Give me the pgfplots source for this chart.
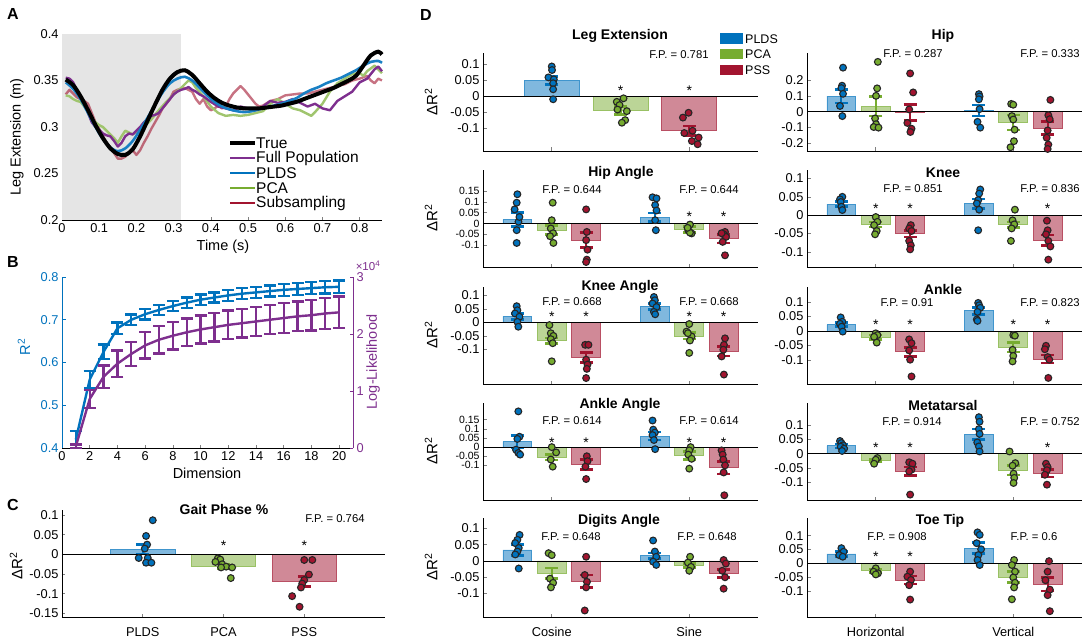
\documentclass[border=0pt]{standalone}
\usepackage{pgfplots}
\pgfplotsset{compat=1.18}
\usepackage{fontspec}
\setmainfont{Liberation Sans}
\definecolor{cB}{RGB}{0,114,189}
\definecolor{cG}{RGB}{119,172,48}
\definecolor{cR}{RGB}{162,20,47}
\definecolor{cP}{RGB}{126,47,142}
\definecolor{edge}{RGB}{38,38,38}
\newcommand{\tk}{\fontsize{12.8}{13}\selectfont}
\newcommand{\tks}{\fontsize{10.5}{10.5}\selectfont}
\newcommand{\ttl}{\fontsize{14}{14}\selectfont\bfseries}
\newcommand{\fp}{\fontsize{11.3}{12}\selectfont}
\newcommand{\lab}{\fontsize{14.5}{15}\selectfont}
\pgfplotsset{
  base/.style={scale only axis, axis x line*=bottom, axis y line*=left,
    tick align=inside, major tick length=3.5pt, tick style={line width=0.6pt},
    axis line style={line width=0.7pt}, ticklabel style={font=\tk}, clip=false},
  dax/.style={base, width=275pt, xmin=0.5, xmax=2.5, xtick={1,2}, xticklabels={}},
  yt5/.style={ytick={-0.1,-0.05,0,0.05,0.1}, yticklabels={-0.1,-0.05,0,0.05,0.1}},
  yt6/.style={ytick={-0.1,-0.05,0,0.05,0.1,0.15}, yticklabels={-0.1,-0.05,0,0.05,0.1,0.15},
    yticklabel style={font=\tks, inner ysep=0pt}},
  barc/.style 2 args={ybar, bar width=#2, bar shift=0pt, fill=#1!50, draw=#1!75, line width=0.8pt,
    error bars/y dir=both, error bars/y explicit,
    error bars/error bar style={#1, line width=2.2pt},
    error bars/error mark options={#1, rotate=90, line width=2.6pt, mark size=6.5pt}},
  dots/.style={only marks, mark=*, mark size=3.4pt, mark options={fill=#1, draw=edge, line width=1.1pt}},
}
\tikzset{star/.style={font=\fontsize{14}{14}\selectfont, inner sep=0pt, yshift=-3pt},
  zl/.style={black, line width=0.8pt}}
\begin{document}
\begin{tikzpicture}
\useasboundingbox (0,0) rectangle (1084pt,641pt);

% ---------- A ----------
\begin{axis}[base, at={(62pt,421pt)}, anchor=south west, width=320pt, height=186pt,
  xmin=0, xmax=0.86, ymin=0.2, ymax=0.4,
  xtick={0,0.1,0.2,0.3,0.4,0.5,0.6,0.7,0.8}, xticklabels={0,0.1,0.2,0.3,0.4,0.5,0.6,0.7,0.8},
  ytick={0.2,0.25,0.3,0.35,0.4}, yticklabels={0.2,0.25,0.3,0.35,0.4}]
\fill[black!10] (axis cs:0,0.2) rectangle (axis cs:0.32,0.4);
\addplot[cR, draw opacity=0.6, line width=2.4pt, line join=round] coordinates {
(0.01,0.335)(0.02,0.340)(0.03,0.336)(0.04,0.332)(0.05,0.330)(0.06,0.328)(0.07,0.325)(0.08,0.315)
(0.09,0.305)(0.10,0.298)(0.11,0.290)(0.12,0.283)(0.13,0.278)(0.14,0.272)(0.15,0.266)(0.16,0.266)
(0.17,0.268)(0.18,0.272)(0.19,0.275)(0.20,0.270)(0.21,0.275)(0.22,0.283)(0.23,0.290)(0.24,0.298)
(0.25,0.305)(0.26,0.312)(0.27,0.320)(0.28,0.325)(0.29,0.330)(0.30,0.338)(0.31,0.340)(0.32,0.341)
(0.33,0.342)(0.34,0.340)(0.35,0.338)(0.36,0.330)(0.37,0.325)(0.38,0.330)(0.39,0.322)(0.40,0.318)
(0.41,0.320)(0.42,0.323)(0.43,0.320)(0.44,0.322)(0.45,0.330)(0.46,0.336)(0.47,0.340)(0.48,0.344)
(0.49,0.340)(0.50,0.335)(0.51,0.330)(0.52,0.325)(0.53,0.322)(0.54,0.323)(0.56,0.328)(0.58,0.330)
(0.60,0.334)(0.62,0.335)(0.64,0.336)(0.66,0.336)(0.68,0.338)(0.70,0.340)(0.72,0.342)(0.74,0.344)
(0.76,0.346)(0.78,0.350)(0.80,0.352)(0.82,0.355)(0.83,0.350)(0.84,0.347)(0.85,0.352)(0.86,0.350)};
\addplot[cG!70, line width=2.4pt, line join=round] coordinates {
(0.01,0.334)(0.02,0.333)(0.03,0.330)(0.04,0.328)(0.05,0.327)(0.06,0.322)(0.07,0.316)(0.08,0.310)
(0.09,0.305)(0.10,0.302)(0.11,0.300)(0.12,0.296)(0.13,0.292)(0.14,0.288)(0.15,0.283)(0.16,0.290)
(0.17,0.296)(0.18,0.294)(0.19,0.292)(0.20,0.295)(0.21,0.298)(0.22,0.300)(0.24,0.308)(0.26,0.318)
(0.28,0.327)(0.30,0.335)(0.32,0.342)(0.34,0.350)(0.35,0.348)(0.36,0.342)(0.38,0.333)(0.40,0.322)
(0.42,0.315)(0.44,0.312)(0.46,0.313)(0.48,0.312)(0.50,0.313)(0.52,0.315)(0.54,0.317)(0.56,0.325)
(0.58,0.330)(0.60,0.325)(0.62,0.320)(0.64,0.318)(0.66,0.314)(0.67,0.312)(0.68,0.316)(0.70,0.325)
(0.72,0.338)(0.74,0.347)(0.76,0.352)(0.78,0.357)(0.80,0.358)(0.81,0.355)(0.82,0.360)(0.84,0.366)
(0.86,0.358)};
\addplot[cP, line width=2.4pt, line join=round] coordinates {
(0.01,0.353)(0.02,0.352)(0.03,0.348)(0.04,0.340)(0.05,0.333)(0.06,0.325)(0.07,0.315)(0.08,0.305)
(0.09,0.300)(0.10,0.297)(0.11,0.293)(0.12,0.291)(0.13,0.290)(0.14,0.285)(0.15,0.279)(0.16,0.283)
(0.17,0.290)(0.18,0.293)(0.19,0.292)(0.20,0.296)(0.21,0.300)(0.22,0.305)(0.23,0.308)(0.24,0.312)
(0.25,0.313)(0.26,0.315)(0.27,0.320)(0.28,0.325)(0.29,0.330)(0.30,0.335)(0.31,0.338)(0.32,0.340)
(0.33,0.341)(0.34,0.343)(0.35,0.340)(0.36,0.338)(0.37,0.335)(0.38,0.333)(0.39,0.330)(0.40,0.327)
(0.42,0.322)(0.44,0.320)(0.46,0.318)(0.48,0.322)(0.50,0.320)(0.52,0.318)(0.54,0.322)(0.56,0.328)
(0.58,0.326)(0.60,0.327)(0.62,0.330)(0.64,0.326)(0.66,0.322)(0.68,0.325)(0.70,0.320)(0.72,0.318)
(0.74,0.328)(0.76,0.333)(0.78,0.338)(0.80,0.348)(0.82,0.352)(0.84,0.362)(0.85,0.365)(0.86,0.360)};
\addplot[cB!90, line width=2.6pt, smooth] coordinates {
(0.01,0.348)(0.03,0.341)(0.05,0.330)(0.07,0.315)(0.09,0.300)(0.11,0.287)(0.13,0.278)(0.15,0.274)
(0.17,0.277)(0.19,0.285)(0.21,0.297)(0.23,0.310)(0.25,0.324)(0.27,0.337)(0.29,0.347)(0.31,0.352)
(0.33,0.354)(0.35,0.350)(0.37,0.342)(0.39,0.334)(0.41,0.327)(0.43,0.322)(0.45,0.319)(0.47,0.317)
(0.49,0.316)(0.51,0.317)(0.53,0.319)(0.55,0.321)(0.57,0.323)(0.59,0.325)(0.61,0.328)(0.63,0.331)
(0.65,0.336)(0.67,0.340)(0.69,0.343)(0.71,0.347)(0.73,0.350)(0.75,0.353)(0.77,0.357)(0.79,0.361)
(0.81,0.366)(0.83,0.370)(0.85,0.371)(0.86,0.369)};
\addplot[black, line width=4pt, smooth] coordinates {
(0.01,0.351)(0.03,0.345)(0.05,0.333)(0.07,0.318)(0.09,0.302)(0.11,0.288)(0.13,0.277)(0.15,0.271)
(0.17,0.270)(0.19,0.276)(0.21,0.290)(0.23,0.307)(0.25,0.324)(0.27,0.340)(0.29,0.352)(0.31,0.359)
(0.33,0.361)(0.35,0.356)(0.37,0.347)(0.39,0.338)(0.41,0.331)(0.43,0.326)(0.45,0.323)(0.47,0.321)
(0.49,0.320)(0.51,0.320)(0.53,0.320)(0.55,0.321)(0.57,0.322)(0.59,0.323)(0.61,0.325)(0.63,0.327)
(0.65,0.330)(0.67,0.333)(0.69,0.336)(0.71,0.339)(0.73,0.342)(0.75,0.346)(0.77,0.350)(0.79,0.355)
(0.81,0.366)(0.83,0.377)(0.85,0.381)(0.86,0.378)};
\end{axis}
% legend A
\draw[black, line width=4pt] (230pt,498pt) -- (255pt,498pt);
\draw[cP, line width=2.4pt] (230pt,483pt) -- (255pt,483pt);
\draw[cB, line width=2.4pt] (230pt,468pt) -- (255pt,468pt);
\draw[cG, line width=2.4pt] (230pt,453pt) -- (255pt,453pt);
\draw[cR, line width=2.4pt] (230pt,438pt) -- (255pt,438pt);
\begin{scope}[every node/.style={anchor=west, inner sep=0pt, font=\fontsize{15.5}{15}\selectfont}]
\node at (256pt,498pt) {True};
\node at (256pt,483pt) {Full Population};
\node at (256pt,468pt) {PLDS};
\node at (256pt,453pt) {PCA};
\node at (256pt,438pt) {Subsampling};
\end{scope}
\node[rotate=90, font=\lab] at (17pt,504pt) {Leg Extension (m)};
\node[font=\lab] at (223pt,394pt) {Time (s)};

% ---------- B ----------
\begin{axis}[base, at={(62pt,193pt)}, anchor=south west, width=291pt, height=171pt,
  xmin=0, xmax=21, ymin=0.4, ymax=0.8,
  xtick={0,2,4,6,8,10,12,14,16,18,20}, xticklabels={0,2,4,6,8,10,12,14,16,18,20},
  ytick={0.4,0.5,0.6,0.7,0.8}, yticklabels={0.4,0.5,0.6,0.7,0.8},
  y axis line style={cB}, ytick style={cB}, yticklabel style={cB}]
\addplot[cB, line width=2.4pt, error bars/y dir=both, error bars/y explicit,
  error bars/error bar style={line width=2.2pt}, error bars/error mark options={rotate=90, line width=2.4pt, mark size=6pt}]
coordinates {(1,0.42)+-(0,0.02) (2,0.56)+-(0,0.02) (3,0.625)+-(0,0.017) (4,0.68)+-(0,0.014)
(5,0.70)+-(0,0.012) (6,0.713)+-(0,0.012) (7,0.723)+-(0,0.012) (8,0.732)+-(0,0.012)
(9,0.740)+-(0,0.012) (10,0.747)+-(0,0.012) (11,0.752)+-(0,0.012) (12,0.757)+-(0,0.013)
(13,0.761)+-(0,0.013) (14,0.764)+-(0,0.013) (15,0.767)+-(0,0.013) (16,0.770)+-(0,0.014)
(17,0.772)+-(0,0.014) (18,0.774)+-(0,0.014) (19,0.776)+-(0,0.015) (20,0.777)+-(0,0.015)};
\end{axis}
\begin{axis}[scale only axis, at={(62pt,193pt)}, anchor=south west, width=291pt, height=171pt,
  xmin=0, xmax=21, ymin=0, ymax=3, axis x line=none, axis y line*=right, clip=false,
  tick align=inside, major tick length=3.5pt, tick style={line width=0.6pt, cP},
  axis line style={line width=0.7pt}, y axis line style={cP},
  ytick={0,1,2,3}, yticklabels={0,1,2,3}, yticklabel style={font=\tk, cP}]
\addplot[cP, line width=2.4pt, error bars/y dir=both, error bars/y explicit,
  error bars/error bar style={line width=2.2pt}, error bars/error mark options={rotate=90, line width=2.4pt, mark size=6pt}]
coordinates {(1,0.03)+-(0,0.03) (2,0.86)+-(0,0.16) (3,1.25)+-(0,0.2) (4,1.48)+-(0,0.23)
(5,1.65)+-(0,0.21) (6,1.80)+-(0,0.23) (7,1.90)+-(0,0.24) (8,1.97)+-(0,0.24)
(9,2.03)+-(0,0.24) (10,2.08)+-(0,0.245) (11,2.12)+-(0,0.25) (12,2.16)+-(0,0.25)
(13,2.19)+-(0,0.25) (14,2.22)+-(0,0.255) (15,2.25)+-(0,0.255) (16,2.28)+-(0,0.26)
(17,2.31)+-(0,0.26) (18,2.33)+-(0,0.27) (19,2.36)+-(0,0.27) (20,2.38)+-(0,0.275)};
\end{axis}
\node[cB, rotate=90, font=\lab] at (24pt,294pt) {R\textsuperscript{2}};
\node[cP, rotate=90, font=\lab] at (373pt,279pt) {Log-Likelihood};
\node[cP, font=\fontsize{11.5}{12}\selectfont] at (368pt,375pt) {×10\textsuperscript{4}};
\node[font=\lab] at (207pt,168pt) {Dimension};

% ---------- C ----------
\begin{axis}[base, at={(62pt,24pt)}, anchor=south west, width=323pt, height=107pt,
  xmin=0, xmax=4, ymin=-0.159, ymax=0.113, xtick={1,2,3}, xticklabels={PLDS,PCA,PSS},
  xticklabel style={yshift=-7pt},
  ytick={-0.15,-0.1,-0.05,0,0.05,0.1}, yticklabels={-0.15,-0.1,-0.05,0,0.05,0.1}]
\addplot[barc={cB}{0.8}] coordinates {(1,0.013)+-(0,0.012)};
\addplot[barc={cG}{0.8}] coordinates {(2,-0.03)+-(0,0.006)};
\addplot[barc={cR}{0.8}] coordinates {(3,-0.069)+-(0,0.013)};
\draw[zl] (axis cs:0,0) -- (axis cs:4,0);
\addplot[dots=cB] coordinates {(1.124,0.087)(1.041,0.047)(1.054,0.025)(1.025,0.015)(0.95,-0.009)(1.062,-0.009)(1.041,-0.021)(1.107,-0.021)};
\addplot[dots=cG] coordinates {(1.93,-0.010)(1.96,-0.013)(1.90,-0.019)(1.983,-0.025)(2.033,-0.031)(2.107,-0.033)(1.97,-0.033)(2.09,-0.060)};
\addplot[dots=cR] coordinates {(3.0,-0.014)(3.1,-0.014)(3.058,-0.051)(3.0,-0.065)(2.975,-0.074)(2.959,-0.084)(2.85,-0.106)(2.942,-0.133)};
\node[star] at (axis cs:2,0.03) {*};
\node[star] at (axis cs:3,0.03) {*};
\end{axis}
\node[font=\ttl] at (224pt,132pt) {Gait Phase \%};
\node[font=\fp] at (335pt,122pt) {F.P. = 0.764};
\node[rotate=90, font=\fontsize{15}{15}\selectfont] at (16pt,75pt) {ΔR\textsuperscript{2}};

% ---------- D: Leg Extension ----------
\begin{axis}[dax, at={(483pt,490pt)}, anchor=south west, height=98pt, ymin=-0.171, ymax=0.134, yt5]
\addplot[barc={cB}{0.4}] coordinates {(1,0.048)+-(0,0.012)};
\addplot[barc={cG}{0.4}] coordinates {(1.5,-0.045)+-(0,0.012)};
\addplot[barc={cR}{0.4}] coordinates {(2,-0.108)+-(0,0.015)};
\draw[zl] (axis cs:0.5,0) -- (axis cs:2.5,0);
\addplot[dots=cB] coordinates {(1.000,0.092)(1.002,0.081)(0.976,0.058)(1.015,0.052)(1.010,0.040)(1.010,0.021)(1.010,-0.010)};
\addplot[dots=cG] coordinates {(1.522,-0.007)(1.473,-0.018)(1.493,-0.028)(1.546,-0.047)(1.478,-0.042)(1.534,-0.075)(1.510,-0.083)};
\addplot[dots=cR] coordinates {(1.995,-0.052)(1.954,-0.067)(2.024,-0.108)(1.964,-0.115)(2.068,-0.129)(2.019,-0.140)(2.061,-0.150)};
\node[star] at (axis cs:1.5,0.027) {*};
\node[star] at (axis cs:2,0.027) {*};
\end{axis}
% ---------- D: Hip ----------
\begin{axis}[dax, at={(807pt,490pt)}, anchor=south west, height=98pt, ymin=-0.252, ymax=0.377,
  ytick={-0.2,-0.1,0,0.1,0.2}, yticklabels={-0.2,-0.1,0,0.1,0.2}]
\addplot[barc={cB}{0.21}] coordinates {(0.75,0.10)+-(0,0.043) (1.75,0.008)+-(0,0.035)};
\addplot[barc={cG}{0.21}] coordinates {(1,0.035)+-(0,0.063) (2,-0.069)+-(0,0.047)};
\addplot[barc={cR}{0.21}] coordinates {(1.25,-0.005)+-(0,0.053) (2.25,-0.104)+-(0,0.042)};
\draw[zl] (axis cs:0.5,0) -- (axis cs:2.5,0);
\addplot[dots=cB] coordinates {(0.762,0.283)(0.755,0.167)(0.750,0.152)(0.762,0.115)(0.740,0.037)(0.757,-0.028)
 (1.750,0.113)(1.755,0.098)(1.750,0.08)(1.755,0.017)(1.740,-0.065)(1.760,-0.102)};
\addplot[dots=cG] coordinates {(1.015,0.32)(1.010,0.15)(1.002,0.102)(0.995,-0.043)(1.002,-0.08)(0.985,-0.098)(1.020,-0.102)
 (1.985,0.05)(2.0,0.045)(1.990,-0.028)(2.0,-0.05)(2.010,-0.115)(2.005,-0.189)(1.980,-0.228)};
\addplot[dots=cR] coordinates {(1.250,0.246)(1.272,0.124)(1.243,0.015)(1.230,-0.072)(1.260,-0.109)(1.252,-0.13)
 (2.270,0.076)(2.255,-0.022)(2.265,-0.048)(2.250,-0.12)(2.243,-0.167)(2.255,-0.211)(2.250,-0.239)};
\end{axis}
% ---------- D: Hip Angle ----------
\begin{axis}[dax, at={(483pt,374pt)}, anchor=south west, height=97pt, ymin=-0.201, ymax=0.247, yt6]
\addplot[barc={cB}{0.21}] coordinates {(0.75,0.018)+-(0,0.033) (1.75,0.029)+-(0,0.019)};
\addplot[barc={cG}{0.21}] coordinates {(1,-0.03)+-(0,0.022) (2,-0.029)+-(0,0.014)};
\addplot[barc={cR}{0.21}] coordinates {(1.25,-0.077)+-(0,0.034) (2.25,-0.07)+-(0,0.02)};
\draw[zl] (axis cs:0.5,0) -- (axis cs:2.5,0);
\addplot[dots=cB] coordinates {(0.750,0.135)(0.745,0.096)(0.730,0.065)(0.758,0.008)(0.745,-0.031)(0.745,-0.090)(0.765,0.03)
 (1.733,0.121)(1.762,0.116)(1.752,0.085)(1.762,0.06)(1.752,0.015)(1.757,-0.031)};
\addplot[dots=cG] coordinates {(1.007,0.096)(1.0,0.015)(0.993,-0.023)(1.010,-0.045)(0.988,-0.059)(1.012,-0.09)
 (2.005,-0.005)(1.993,-0.031)(2.017,-0.046)(2.005,-0.042)(1.988,-0.02)};
\addplot[dots=cR] coordinates {(1.25,0.065)(1.255,-0.039)(1.25,-0.077)(1.26,-0.121)(1.255,-0.167)(1.25,-0.178)
 (2.26,-0.039)(2.25,-0.05)(2.267,-0.062)(2.243,-0.085)(2.26,-0.147)(2.235,-0.045)};
\node[star] at (axis cs:2,0.046) {*};
\node[star] at (axis cs:2.25,0.046) {*};
\end{axis}
% ---------- D: Knee ----------
\begin{axis}[dax, at={(807pt,374pt)}, anchor=south west, height=97pt, ymin=-0.141, ymax=0.123, yt5]
\addplot[barc={cB}{0.21}] coordinates {(0.75,0.03)+-(0,0.007) (1.75,0.031)+-(0,0.013)};
\addplot[barc={cG}{0.21}] coordinates {(1,-0.025)+-(0,0.007) (2,-0.026)+-(0,0.008)};
\addplot[barc={cR}{0.21}] coordinates {(1.25,-0.05)+-(0,0.009) (2.25,-0.068)+-(0,0.014)};
\draw[zl] (axis cs:0.5,0) -- (axis cs:2.5,0);
\addplot[dots=cB] coordinates {(0.757,0.05)(0.74,0.043)(0.745,0.036)(0.75,0.023)(0.757,0.014)
 (1.76,0.07)(1.752,0.059)(1.745,0.041)(1.735,0.032)(1.752,0.015)(1.745,-0.041)};
\addplot[dots=cG] coordinates {(1.0,-0.005)(1.012,-0.018)(0.988,-0.027)(1.007,-0.043)(0.995,-0.052)
 (2.012,0.015)(1.995,-0.014)(2.007,-0.025)(1.988,-0.036)(1.983,-0.07)};
\addplot[dots=cR] coordinates {(1.255,-0.027)(1.243,-0.036)(1.26,-0.043)(1.243,-0.07)(1.255,-0.082)(1.25,-0.093)
 (2.245,-0.015)(2.25,-0.041)(2.238,-0.052)(2.255,-0.07)(2.27,-0.085)(2.255,-0.121)};
\node[star] at (axis cs:1,0.027) {*};
\node[star] at (axis cs:1.25,0.027) {*};
\node[star] at (axis cs:2.25,0.027) {*};
\end{axis}
% ---------- D: Knee Angle ----------
\begin{axis}[dax, at={(483pt,257pt)}, anchor=south west, height=97pt, ymin=-0.228, ymax=0.131, yt5]
\addplot[barc={cB}{0.21}] coordinates {(0.75,0.022)+-(0,0.011) (1.75,0.059)+-(0,0.011)};
\addplot[barc={cG}{0.21}] coordinates {(1,-0.068)+-(0,0.01) (2,-0.05)+-(0,0.012)};
\addplot[barc={cR}{0.21}] coordinates {(1.25,-0.13)+-(0,0.018) (2.25,-0.107)+-(0,0.018)};
\draw[zl] (axis cs:0.5,0) -- (axis cs:2.5,0);
\addplot[dots=cB] coordinates {(0.745,0.06)(0.75,0.045)(0.733,0.033)(0.765,0.021)(0.75,0.002)(0.757,-0.016)
 (1.743,0.094)(1.75,0.082)(1.733,0.07)(1.762,0.057)(1.743,0.039)(1.752,0.03)};
\addplot[dots=cG] coordinates {(0.983,-0.01)(0.993,-0.04)(1.012,-0.05)(0.993,-0.062)(1.007,-0.077)(1.0,-0.144)
 (2.0,-0.006)(1.98,-0.034)(2.017,-0.052)(2.005,-0.067)(2.0,-0.113)(1.99,-0.04)};
\addplot[dots=cR] coordinates {(1.243,-0.083)(1.267,-0.083)(1.25,-0.138)(1.26,-0.156)(1.255,-0.172)(1.25,-0.206)
 (2.26,-0.059)(2.252,-0.083)(2.248,-0.101)(2.235,-0.126)(2.252,-0.193)};
\node[star] at (axis cs:1,0.033) {*};
\node[star] at (axis cs:1.25,0.033) {*};
\node[star] at (axis cs:2,0.033) {*};
\node[star] at (axis cs:2.25,0.033) {*};
\end{axis}
% ---------- D: Ankle ----------
\begin{axis}[dax, at={(807pt,257pt)}, anchor=south west, height=97pt, ymin=-0.183, ymax=0.152, yt5]
\addplot[barc={cB}{0.21}] coordinates {(0.75,0.022)+-(0,0.007) (1.75,0.07)+-(0,0.012)};
\addplot[barc={cG}{0.21}] coordinates {(1,-0.022)+-(0,0.008) (2,-0.056)+-(0,0.016)};
\addplot[barc={cR}{0.21}] coordinates {(1.25,-0.072)+-(0,0.016) (2.25,-0.097)+-(0,0.014)};
\draw[zl] (axis cs:0.5,0) -- (axis cs:2.5,0);
\addplot[dots=cB] coordinates {(0.745,0.047)(0.757,0.032)(0.74,0.025)(0.752,0.015)(0.76,-0.002)
 (1.745,0.097)(1.752,0.089)(1.76,0.08)(1.74,0.066)(1.735,0.04)(1.74,0.035)};
\addplot[dots=cG] coordinates {(1.0,-0.008)(1.012,-0.014)(0.988,-0.02)(1.007,-0.04)
 (2.0,-0.014)(2.012,-0.016)(1.995,-0.065)(2.0,-0.086)(1.995,-0.105)};
\addplot[dots=cR] coordinates {(1.243,-0.029)(1.26,-0.042)(1.243,-0.067)(1.25,-0.099)(1.26,-0.157)
 (2.238,-0.051)(2.23,-0.063)(2.25,-0.09)(2.262,-0.099)(2.255,-0.162)};
\node[star] at (axis cs:1,0.032) {*};
\node[star] at (axis cs:1.25,0.032) {*};
\node[star] at (axis cs:2,0.032) {*};
\node[star] at (axis cs:2.25,0.032) {*};
\end{axis}
% ---------- D: Ankle Angle ----------
\begin{axis}[dax, at={(483pt,141pt)}, anchor=south west, height=97pt, ymin=-0.29, ymax=0.242, yt6]
\addplot[barc={cB}{0.21}] coordinates {(0.75,0.03)+-(0,0.035) (1.75,0.06)+-(0,0.022)};
\addplot[barc={cG}{0.21}] coordinates {(1,-0.056)+-(0,0.015) (2,-0.046)+-(0,0.022)};
\addplot[barc={cR}{0.21}] coordinates {(1.25,-0.095)+-(0,0.027) (2.25,-0.113)+-(0,0.035)};
\draw[zl] (axis cs:0.5,0) -- (axis cs:2.5,0);
\addplot[dots=cB] coordinates {(0.757,0.196)(0.765,0.057)(0.75,0.045)(0.74,-0.014)(0.757,-0.032)(0.77,-0.041)
 (1.733,0.146)(1.738,0.096)(1.75,0.08)(1.733,0.066)(1.743,0.039)(1.752,-0.011)};
\addplot[dots=cG] coordinates {(1.0,0.0)(1.032,-0.029)(0.993,-0.068)(1.007,-0.107)
 (2.01,0.0)(2.0,-0.018)(1.993,-0.041)(2.017,-0.064)(2.0,-0.118)};
\addplot[dots=cR] coordinates {(1.255,-0.05)(1.26,-0.077)(1.245,-0.107)(1.25,-0.175)
 (2.235,-0.018)(2.243,-0.041)(2.248,-0.068)(2.26,-0.1)(2.25,-0.139)(2.255,-0.264)};
\node[star] at (axis cs:1,0.039) {*};
\node[star] at (axis cs:1.25,0.039) {*};
\node[star] at (axis cs:2,0.039) {*};
\node[star] at (axis cs:2.25,0.039) {*};
\end{axis}
% ---------- D: Metatarsal ----------
\begin{axis}[dax, at={(807pt,141pt)}, anchor=south west, height=97pt, ymin=-0.163, ymax=0.179, yt5]
\addplot[barc={cB}{0.21}] coordinates {(0.75,0.028)+-(0,0.007) (1.75,0.069)+-(0,0.018)};
\addplot[barc={cG}{0.21}] coordinates {(1,-0.023)+-(0,0.005) (2,-0.058)+-(0,0.017)};
\addplot[barc={cR}{0.21}] coordinates {(1.25,-0.062)+-(0,0.015) (2.25,-0.069)+-(0,0.013)};
\draw[zl] (axis cs:0.5,0) -- (axis cs:2.5,0);
\addplot[dots=cB] coordinates {(0.74,0.045)(0.75,0.038)(0.762,0.03)(0.745,0.025)(0.77,0.018)(0.755,0.01)
 (1.75,0.129)(1.755,0.113)(1.75,0.087)(1.755,0.07)(1.738,0.04)(1.75,0.026)(1.755,0.008)};
\addplot[dots=cG] coordinates {(1.012,-0.015)(1.0,-0.021)(0.988,-0.035)
 (1.973,0.008)(2.015,-0.033)(1.995,-0.042)(2.002,-0.07)(2.007,-0.085)(2.002,-0.103)};
\addplot[dots=cR] coordinates {(1.243,-0.03)(1.267,-0.035)(1.26,-0.056)(1.243,-0.062)(1.25,-0.144)
 (2.238,-0.035)(2.25,-0.047)(2.245,-0.058)(2.23,-0.074)(2.245,-0.109)};
\node[star] at (axis cs:1,0.032) {*};
\node[star] at (axis cs:1.25,0.032) {*};
\node[star] at (axis cs:2.25,0.032) {*};
\end{axis}
% ---------- D: Digits Angle ----------
\begin{axis}[dax, at={(483pt,24pt)}, anchor=south west, height=99pt, ymin=-0.172, ymax=0.132, yt5,
  xticklabels={Cosine,Sine}, xticklabel style={yshift=-7pt}]
\addplot[barc={cB}{0.21}] coordinates {(0.75,0.034)+-(0,0.017) (1.75,0.016)+-(0,0.008)};
\addplot[barc={cG}{0.21}] coordinates {(1,-0.038)+-(0,0.016) (2,-0.014)+-(0,0.006)};
\addplot[barc={cR}{0.21}] coordinates {(1.25,-0.062)+-(0,0.019) (2.25,-0.038)+-(0,0.012)};
\draw[zl] (axis cs:0.5,0) -- (axis cs:2.5,0);
\addplot[dots=cB] coordinates {(0.766,0.08)(0.75,0.065)(0.734,0.055)(0.76,0.04)(0.75,0.029)(0.735,0.02)(0.76,-0.023)
 (1.737,0.063)(1.75,0.029)(1.76,0.013)(1.737,-0.002)(1.76,-0.012)};
\addplot[dots=cG] coordinates {(0.977,0.024)(1.0,0.018)(0.987,-0.054)(1.01,-0.067)(0.994,-0.081)
 (2.006,0.013)(1.99,-0.005)(2.013,-0.018)(2.0,-0.03)};
\addplot[dots=cR] coordinates {(1.25,0.013)(1.24,-0.043)(1.256,-0.064)(1.25,-0.081)(1.24,-0.152)
 (2.25,0.003)(2.266,-0.008)(2.24,-0.03)(2.26,-0.05)(2.25,-0.085)};
\end{axis}
% ---------- D: Toe Tip ----------
\begin{axis}[dax, at={(807pt,24pt)}, anchor=south west, height=99pt, ymin=-0.194, ymax=0.164, yt5,
  xticklabels={Horizontal,Vertical}, xticklabel style={yshift=-7pt}]
\addplot[barc={cB}{0.21}] coordinates {(0.75,0.034)+-(0,0.009) (1.75,0.055)+-(0,0.02)};
\addplot[barc={cG}{0.21}] coordinates {(1,-0.027)+-(0,0.006) (2,-0.05)+-(0,0.02)};
\addplot[barc={cR}{0.21}] coordinates {(1.25,-0.06)+-(0,0.014) (2.25,-0.076)+-(0,0.024)};
\draw[zl] (axis cs:0.5,0) -- (axis cs:2.5,0);
\addplot[dots=cB] coordinates {(0.75,0.055)(0.766,0.042)(0.734,0.03)(0.76,0.024)
 (1.74,0.112)(1.756,0.103)(1.734,0.073)(1.766,0.051)(1.746,0.03)(1.74,0.012)(1.756,-0.006)};
\addplot[dots=cG] coordinates {(1.0,-0.018)(0.984,-0.03)(1.016,-0.036)(1.0,-0.04)
 (2.006,0.012)(1.99,-0.006)(2.013,-0.03)(2.0,-0.051)(2.013,-0.07)(2.006,-0.087)(1.99,-0.13)};
\addplot[dots=cR] coordinates {(1.25,-0.03)(1.23,-0.048)(1.256,-0.06)(1.243,-0.079)(1.25,-0.131)
 (2.26,0.008)(2.25,-0.03)(2.234,-0.061)(2.266,-0.095)(2.25,-0.115)(2.266,-0.173)};
\node[star] at (axis cs:1,0.036) {*};
\node[star] at (axis cs:1.25,0.036) {*};
\end{axis}

% ---------- D texts ----------
\begin{scope}[every node/.style={font=\ttl}]
\node at (620pt,605pt) {Leg Extension};
\node at (943pt,605pt) {Hip};
\node at (621pt,468pt) {Hip Angle};
\node at (943pt,468pt) {Knee};
\node at (620pt,354pt) {Knee Angle};
\node at (943pt,352pt) {Ankle};
\node at (620pt,236pt) {Ankle Angle};
\node at (943pt,236pt) {Metatarsal};
\node at (619pt,120pt) {Digits Angle};
\node at (940pt,120pt) {Toe Tip};
\end{scope}
\begin{scope}[every node/.style={font=\fp}]
\node at (679pt,586pt) {F.P. = 0.781};
\node at (913pt,587pt) {F.P. = 0.287};
\node at (1050pt,587pt) {F.P. = 0.333};
\node at (572pt,451pt) {F.P. = 0.644};
\node at (709pt,451pt) {F.P. = 0.644};
\node at (913pt,452pt) {F.P. = 0.851};
\node at (1050pt,452pt) {F.P. = 0.836};
\node at (572pt,339pt) {F.P. = 0.668};
\node at (709pt,339pt) {F.P. = 0.668};
\node at (907pt,338pt) {F.P. = 0.91};
\node at (1050pt,338pt) {F.P. = 0.823};
\node at (572pt,220pt) {F.P. = 0.614};
\node at (709pt,220pt) {F.P. = 0.614};
\node at (912pt,219pt) {F.P. = 0.914};
\node at (1050pt,219pt) {F.P. = 0.752};
\node at (571pt,104pt) {F.P. = 0.648};
\node at (707pt,104pt) {F.P. = 0.648};
\node at (897pt,104pt) {F.P. = 0.908};
\node at (1034pt,104pt) {F.P. = 0.6};
\end{scope}
\begin{scope}[every node/.style={rotate=90, font=\fontsize{15}{15}\selectfont}]
\node at (431pt,539pt) {ΔR\textsuperscript{2}};
\node at (431pt,423pt) {ΔR\textsuperscript{2}};
\node at (431pt,306pt) {ΔR\textsuperscript{2}};
\node at (431pt,190pt) {ΔR\textsuperscript{2}};
\node at (431pt,74pt) {ΔR\textsuperscript{2}};
\end{scope}
% legend D
\fill[cB] (720pt,597pt) rectangle (743pt,608pt);
\fill[cG] (720pt,582pt) rectangle (743pt,592pt);
\fill[cR] (720pt,566pt) rectangle (743pt,576pt);
\begin{scope}[every node/.style={anchor=west, inner sep=0pt, font=\fontsize{12.5}{12}\selectfont}]
\node at (745pt,602pt) {PLDS};
\node at (745pt,587pt) {PCA};
\node at (745pt,571pt) {PSS};
\end{scope}
% panel letters
\begin{scope}[every node/.style={font=\fontsize{16}{16}\selectfont\bfseries}]
\node at (13pt,627pt) {A};
\node at (13pt,379pt) {B};
\node at (13pt,136pt) {C};
\node at (426pt,626pt) {D};
\end{scope}
\end{tikzpicture}
\end{document}
